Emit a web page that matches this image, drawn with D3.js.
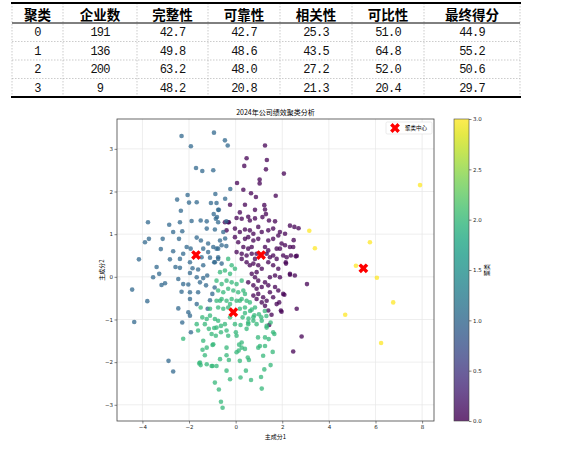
<!DOCTYPE html>
<html lang="zh">
<head>
<meta charset="UTF-8">
<title>2024年公司绩效聚类分析</title>
<script src="https://cdn.jsdelivr.net/npm/d3@7"></script>
<style>
  html, body { margin: 0; padding: 0; background: #fff; }
  svg { display: block; }
</style>
</head>
<body>
<div id="chart"></div>
<script>
// ---- table data ----
const headers = ['聚类', '企业数', '完整性', '可靠性', '相关性', '可比性', '最终得分'];
const clusterIds = ['0', '1', '2', '3'];
const companyCounts = [191, 136, 200, 9];
const completeness = [42.7, 49.8, 63.2, 48.2];
const reliability = [42.7, 48.6, 48.0, 20.8];
const relevance = [25.3, 43.5, 27.2, 21.3];
const comparability = [51.0, 64.8, 52.0, 20.4];
const finalScore = [44.9, 55.2, 50.6, 29.7];

// ---- scatter data (principal component 1, principal component 2) ----
const cluster0 = [
  [1.26,3.08],[0.47,2.78],[1.34,2.74],[0.37,2.60],[1.30,2.52],[2.07,2.42],[1.03,2.28],[1.03,2.19],
  [0.06,2.20],[0.33,2.04],[0.66,1.96],[0.87,1.87],[1.72,1.90],[-0.24,1.69],[0.40,1.69],[1.23,1.68],
  [0.18,1.51],[0.83,1.57],[1.26,1.58],[1.30,1.47],[0.54,1.41],[0.04,1.38],[0.61,1.32],[1.43,1.32],
  [1.69,1.30],[0.26,1.36],[0.83,1.37],[1.15,1.40],[2.33,1.20],[2.52,1.17],[2.70,1.14],[-0.46,1.28],
  [-0.29,1.28],[-0.39,1.09],[-0.03,1.13],[0.18,1.05],[0.40,1.11],[0.61,1.09],[0.76,1.01],[0.97,1.17],
  [1.12,1.05],[1.40,1.09],[1.61,1.13],[1.90,1.05],[2.12,1.01],[1.40,0.85],[1.61,0.89],[1.97,0.78],
  [2.12,0.74],[2.47,0.70],[1.76,0.66],[1.26,0.70],[1.40,0.62],[0.40,0.89],[0.54,0.93],[0.76,0.85],
  [0.97,0.89],[-0.03,0.93],[0.11,0.81],[0.33,0.70],[0.54,0.66],[0.69,0.70],[0.04,0.58],[0.26,0.54],
  [0.47,0.50],[0.69,0.54],[0.83,0.42],[0.90,0.54],[1.33,0.54],[1.47,0.46],[1.61,0.50],[1.76,0.42],
  [2.04,0.50],[2.19,0.46],[2.37,0.50],[2.58,0.48],[2.15,0.34],[0.26,0.42],[0.47,0.34],[0.61,0.27],
  [0.76,0.31],[0.97,0.27],[1.12,0.19],[0.90,0.11],[1.40,0.34],[1.61,0.27],[1.83,0.19],[1.47,-0.01],
  [1.69,0.03],[1.90,-0.01],[2.33,0.05],[2.54,0.03],[3.06,-0.17],[0.69,0.07],[0.83,-0.01],[0.97,-0.09],
  [0.54,-0.13],[0.76,-0.20],[0.90,-0.28],[1.12,-0.24],[1.26,-0.13],[1.40,-0.20],[1.69,-0.24],[1.83,-0.32],
  [2.04,-0.40],[0.97,-0.40],[1.18,-0.48],[1.33,-0.56],[1.12,-0.60],[0.76,-0.44],[0.90,-0.52],[1.47,-0.36],
  [1.61,-0.48],[1.26,-0.68],[1.40,-0.79],[2.62,-0.75],[1.76,-0.64],[1.94,-0.79],[2.09,-0.42],[1.87,-0.60],
  [1.54,-0.89],[1.44,-1.13],[2.83,-1.40],[2.47,-1.75],[1.97,-0.82],[1.83,0.97],[1.90,0.66],[2.33,0.70],
  [2.16,0.31],[2.33,0.07],[2.49,0.86],[2.62,0.49],[-0.32,1.28]
];
const cluster1 = [
  [-2.32,3.30],[-0.93,3.38],[-1.92,3.06],[-1.70,2.55],[-1.43,2.48],[-0.96,2.50],[-2.06,1.92],[-2.51,1.81],
  [-2.00,1.74],[-1.67,1.75],[-0.87,1.94],[-1.06,1.73],[-0.82,1.73],[-2.35,1.55],[-0.75,1.57],[-0.94,1.47],
  [-3.76,1.28],[-1.89,1.31],[-1.50,1.32],[-0.80,1.40],[-0.46,3.20],[-0.34,3.08],[-0.23,2.06],[-0.45,1.83],
  [-0.72,1.57],[-0.40,1.30],[-2.39,1.28],[-2.85,1.22],[-2.68,1.05],[-2.29,1.07],[-1.24,1.30],[-1.24,1.13],
  [-0.89,1.11],[-0.85,1.36],[-0.75,1.28],[-0.53,1.05],[-3.72,0.89],[-3.89,0.81],[-3.13,0.89],[-2.43,0.89],
  [-1.67,0.92],[-1.49,0.85],[-1.18,0.78],[-3.21,0.65],[-2.68,0.60],[-2.10,0.70],[-1.93,0.66],[-1.39,0.66],
  [-0.96,0.70],[-0.75,0.66],[-2.25,0.54],[-2.39,0.42],[-2.82,0.41],[-1.18,0.58],[-1.46,0.46],[-1.10,0.45],
  [-4.15,0.41],[-3.39,0.23],[-2.58,0.23],[-2.39,0.21],[-1.96,0.34],[-1.85,0.20],[-1.61,0.17],[-1.39,0.27],
  [-0.92,0.34],[-0.75,0.46],[-3.28,0.07],[-3.54,-0.01],[-1.96,0.09],[-1.67,-0.01],[-1.39,-0.03],[-1.22,0.03],
  [-2.46,-0.05],[-3.03,-0.15],[-3.18,-0.19],[-2.25,-0.17],[-2.03,-0.18],[-1.53,-0.13],[-4.44,-0.30],[-3.79,-0.57],
  [-2.32,-0.35],[-1.96,-0.36],[-1.61,-0.36],[-1.27,-0.20],[-1.96,-0.52],[-2.46,-0.74],[-1.67,-0.64],[-2.03,-0.83],
  [-4.35,-1.06],[-2.29,-1.07],[-1.92,-1.30],[-2.88,-1.97],[-2.68,-2.22],[-1.96,-0.91],[-0.89,0.34],[-0.75,0.42],
  [-0.60,0.31],[-0.82,0.66],[-0.60,0.74],[-0.67,0.85],[-0.45,0.90],[-0.40,0.72],[-1.10,-0.55],[-1.00,-0.40],
  [-0.90,-0.25],[-1.20,-0.75]
];
const cluster2 = [
  [-2.25,-1.45],[-1.42,-1.71],[-1.32,-1.84],[-1.56,-2.03],[-1.50,-2.07],[-0.99,-1.60],[-0.99,-2.09],[-0.82,-2.09],
  [-0.89,-2.48],[-0.72,-2.64],[-0.63,-2.93],[-0.56,-3.07],[-0.39,-1.84],[-0.29,-1.95],[-0.39,-2.20],[-0.24,-2.40],
  [0.15,-1.59],[0.13,-1.73],[0.18,-1.97],[0.21,-2.36],[0.44,-2.20],[0.52,-1.89],[0.57,-1.95],[0.66,-2.42],
  [0.26,-1.66],[1.12,-2.62],[1.09,-2.35],[1.23,-2.17],[1.50,-2.07],[1.18,-1.85],[1.59,-1.76],[0.97,-1.66],
  [1.04,-1.62],[1.26,-1.62],[0.96,-1.42],[1.26,-1.42],[1.42,-1.46],[1.66,-1.34],[-0.63,-1.30],[-0.85,-1.38],
  [-0.32,-1.38],[-0.63,-1.15],[-0.92,-1.20],[-1.32,-1.11],[-1.43,-0.95],[-1.24,-0.99],[-1.15,-1.22],[0.01,-1.30],
  [-0.03,-1.11],[0.21,-1.13],[0.54,-1.11],[0.76,-1.03],[1.33,-1.15],[1.50,-1.07],[0.47,-1.22],[-0.46,-1.11],
  [-0.24,-0.95],[-0.89,-0.99],[-1.10,-0.91],[0.40,-0.85],[0.62,-0.80],[0.80,-0.90],[0.30,-0.95],[0.55,-0.98],
  [1.00,-0.88],[1.10,-0.95],[1.25,-0.80],[1.32,-0.92],[-0.67,0.11],[-0.46,0.15],[-0.24,0.07],[-0.17,0.27],
  [-0.32,0.42],[-0.03,0.19],[-0.82,-0.09],[-0.60,-0.17],[-0.39,-0.09],[-0.17,-0.13],[0.04,-0.17],[0.26,-0.09],
  [-0.75,-0.32],[-0.53,-0.36],[-0.32,-0.28],[-0.10,-0.32],[0.11,-0.36],[0.33,-0.32],[0.40,-0.40],[-0.82,-0.56],
  [-0.60,-0.52],[-0.39,-0.56],[-0.17,-0.52],[0.04,-0.56],[0.26,-0.52],[0.47,-0.56],[0.61,-0.60],[-0.75,-0.72],
  [-0.53,-0.75],[-0.32,-0.72],[0.18,-0.75],[0.40,-0.72],[0.69,-0.77],[0.83,-0.72],[-1.50,-0.72],[-1.10,-0.75],
  [-0.75,-1.03],[-0.82,-1.19],[-0.39,-1.26],[-1.03,-1.34],[-1.67,-1.11],[-1.61,-1.26],[-0.67,-0.56],[0.18,-0.56],
  [-0.24,-0.64],[0.76,-0.95],[0.54,-1.07],[0.90,-1.11],[1.12,-1.03],[1.33,-1.19],[1.61,-1.30],[0.26,-1.54],
  [0.40,-1.69],[0.04,-1.77],[-1.53,-2.01],[-1.24,-2.05],[-1.03,-2.09],[-0.67,-1.93],[-1.39,-1.50],[-1.24,-1.66],
  [-0.96,-1.58],[-0.39,-1.66],[0.04,-1.38]
];
const cluster3 = [
  [3.16,1.08],[3.40,0.67],[5.76,0.81],[5.16,0.26],[6.06,-0.02],[7.91,2.15],[6.76,-0.60],[4.70,-0.89],[6.24,-1.55]
];
const centers = [[1.09,0.51],[-1.70,0.51],[-0.10,-0.83],[5.48,0.20]];

const xTicks = [-4, -2, 0, 2, 4, 6, 8];
const yTicks = [-3, -2, -1, 0, 1, 2, 3];
const cbTicks = [0, 0.5, 1, 1.5, 2, 2.5, 3];

// ---- layout ----
const W = 588, H = 450;
const svg = d3.select('#chart').append('svg').attr('width', W).attr('height', H);
svg.append('rect').attr('width', W).attr('height', H).attr('fill', '#fff');

// ---- table ----
const colEdges = [12, 63, 137, 208, 280, 352, 424, 520];
const rowEdges = [3, 23, 41.5, 60, 78.5, 97];
const tbl = svg.append('g');
const rows = clusterIds.map((c, i) => [
  c, String(companyCounts[i]), completeness[i].toFixed(1), reliability[i].toFixed(1),
  relevance[i].toFixed(1), comparability[i].toFixed(1), finalScore[i].toFixed(1)
]);

// dashed grid
colEdges.forEach(cx => {
  tbl.append('line').attr('x1', cx).attr('x2', cx).attr('y1', rowEdges[0]).attr('y2', rowEdges[5])
    .attr('stroke', '#aaa').attr('stroke-width', 0.6).attr('stroke-dasharray', '1.5,1.5');
});
rowEdges.slice(2, 5).forEach(ry => {
  tbl.append('line').attr('x1', colEdges[0]).attr('x2', colEdges[7]).attr('y1', ry).attr('y2', ry)
    .attr('stroke', '#aaa').attr('stroke-width', 0.6).attr('stroke-dasharray', '1.5,1.5');
});
tbl.append('line').attr('x1', colEdges[0]).attr('x2', colEdges[7]).attr('y1', rowEdges[1]).attr('y2', rowEdges[1])
  .attr('stroke', '#000').attr('stroke-width', 1);
[rowEdges[0], rowEdges[5]].forEach(ry => {
  tbl.append('line').attr('x1', colEdges[0] - 1).attr('x2', colEdges[7] + 1).attr('y1', ry).attr('y2', ry)
    .attr('stroke', '#000').attr('stroke-width', 2.2);
});

const colMid = i => (colEdges[i] + colEdges[i + 1]) / 2;
tbl.selectAll('text.h').data(headers).join('text')
  .attr('x', (d, i) => colMid(i)).attr('y', (rowEdges[0] + rowEdges[1]) / 2 + 1)
  .attr('text-anchor', 'middle').attr('dominant-baseline', 'central')
  .style('font-family', '"Noto Sans CJK SC", sans-serif').style('font-weight', 'bold')
  .style('font-size', '13.5px').text(d => d);

rows.forEach((r, ri) => {
  tbl.selectAll(null).data(r).join('text')
    .attr('x', (d, i) => colMid(i)).attr('y', (rowEdges[ri + 1] + rowEdges[ri + 2]) / 2 + 1)
    .attr('text-anchor', 'middle').attr('dominant-baseline', 'central')
    .style('font-family', '"Liberation Mono", monospace').style('font-size', '12px')
    .style('letter-spacing', '-0.8px').attr('fill', '#111').text(d => d);
});

// ---- scatter ----
const pl = {left: 117, right: 434, top: 119, bottom: 421};
const x = d3.scaleLinear().domain([-5.09, 8.51]).range([pl.left, pl.right]);
const y = d3.scaleLinear().domain([-3.38, 3.70]).range([pl.bottom, pl.top]);
const color = d3.scaleSequential(d3.interpolateViridis).domain([0, 3]);

const g = svg.append('g');
// grid
g.selectAll('line.gx').data(xTicks).join('line')
  .attr('x1', d => x(d)).attr('x2', d => x(d)).attr('y1', pl.top).attr('y2', pl.bottom)
  .attr('stroke', '#e6e6e6').attr('stroke-width', 0.7);
g.selectAll('line.gy').data(yTicks).join('line')
  .attr('x1', pl.left).attr('x2', pl.right).attr('y1', d => y(d)).attr('y2', d => y(d))
  .attr('stroke', '#e6e6e6').attr('stroke-width', 0.7);

const clusters = [cluster0, cluster1, cluster2, cluster3];
clusters.forEach((pts, ci) => {
  g.selectAll(null).data(pts).join('circle')
    .attr('cx', d => x(d[0])).attr('cy', d => y(d[1])).attr('r', 2.3)
    .attr('fill', color(ci)).attr('fill-opacity', 0.75);
});

const xSym = d3.symbol().type(d3.symbolCross).size(60);
g.selectAll('path.ctr').data(centers).join('path')
  .attr('d', xSym)
  .attr('transform', d => `translate(${x(d[0])},${y(d[1])}) rotate(45)`)
  .attr('fill', '#ff0000');

// axes
const xAxis = g.append('g').attr('transform', `translate(0,${pl.bottom})`)
  .call(d3.axisBottom(x).tickValues(xTicks).tickSize(2.5).tickPadding(1.5).tickFormat(d3.format('d')));
const yAxis = g.append('g').attr('transform', `translate(${pl.left},0)`)
  .call(d3.axisLeft(y).tickValues(yTicks).tickSize(2.5).tickPadding(1.5).tickFormat(d3.format('d')));
[xAxis, yAxis].forEach(a => {
  a.select('.domain').remove();
  a.selectAll('line').attr('stroke', '#333').attr('stroke-width', 0.6);
  a.selectAll('text').style('font-family', '"DejaVu Sans", sans-serif').style('font-size', '5.5px').attr('fill', '#222');
});
g.append('rect').attr('x', pl.left).attr('y', pl.top)
  .attr('width', pl.right - pl.left).attr('height', pl.bottom - pl.top)
  .attr('fill', 'none').attr('stroke', '#444').attr('stroke-width', 0.8);

// titles
svg.append('text').attr('x', (pl.left + pl.right) / 2).attr('y', pl.top - 4)
  .attr('text-anchor', 'middle').style('font-family', '"Noto Sans CJK SC", sans-serif')
  .style('font-size', '7px').text('2024年公司绩效聚类分析');
svg.append('text').attr('x', (pl.left + pl.right) / 2).attr('y', 439)
  .attr('text-anchor', 'middle').style('font-family', '"Noto Sans CJK SC", sans-serif')
  .style('font-size', '6px').text('主成分1');
svg.append('text').attr('transform', `translate(104,${(pl.top + pl.bottom) / 2}) rotate(-90)`)
  .attr('text-anchor', 'middle').style('font-family', '"Noto Sans CJK SC", sans-serif')
  .style('font-size', '6px').text('主成分2');

// legend
const lg = svg.append('g');
lg.append('rect').attr('x', 386).attr('y', 122).attr('width', 46).attr('height', 12)
  .attr('rx', 1.5).attr('fill', '#fff').attr('stroke', '#ddd').attr('stroke-width', 0.6);
lg.append('path').attr('d', xSym).attr('transform', 'translate(395,128) rotate(45)').attr('fill', '#ff0000');
lg.append('text').attr('x', 405).attr('y', 128).attr('dominant-baseline', 'central')
  .style('font-family', '"Noto Sans CJK SC", sans-serif').style('font-size', '5.5px').text('聚类中心');

// colorbar
const cb = {x: 454, w: 15};
const cy = d3.scaleLinear().domain([0, 3]).range([pl.bottom, pl.top]);
const defs = svg.append('defs');
const grad = defs.append('linearGradient').attr('id', 'vir').attr('x1', 0).attr('y1', 1).attr('x2', 0).attr('y2', 0);
d3.range(0, 1.0001, 0.05).forEach(t => {
  grad.append('stop').attr('offset', t).attr('stop-color', d3.interpolateViridis(t));
});
svg.append('rect').attr('x', cb.x).attr('y', pl.top).attr('width', cb.w).attr('height', pl.bottom - pl.top)
  .attr('fill', 'url(#vir)').attr('fill-opacity', 0.8);
svg.append('rect').attr('x', cb.x).attr('y', pl.top).attr('width', cb.w).attr('height', pl.bottom - pl.top)
  .attr('fill', 'none').attr('stroke', '#444').attr('stroke-width', 0.6);
const cAxis = svg.append('g').attr('transform', `translate(${cb.x + cb.w},0)`)
  .call(d3.axisRight(cy).tickValues(cbTicks).tickSize(2.5).tickPadding(1.5).tickFormat(d3.format('.1f')));
cAxis.select('.domain').remove();
cAxis.selectAll('line').attr('stroke', '#333').attr('stroke-width', 0.6);
cAxis.selectAll('text').style('font-family', '"DejaVu Sans", sans-serif').style('font-size', '5.5px').attr('fill', '#222');
svg.append('text').attr('transform', `translate(489,${(pl.top + pl.bottom) / 2}) rotate(-90)`)
  .attr('text-anchor', 'middle').style('font-family', '"Noto Sans CJK SC", sans-serif')
  .style('font-size', '6px').text('聚类');
</script>
</body>
</html>
